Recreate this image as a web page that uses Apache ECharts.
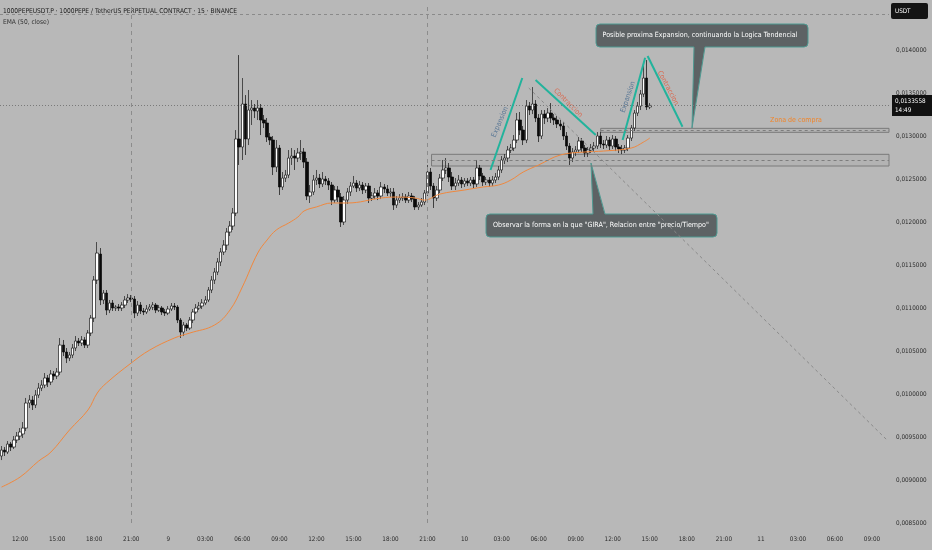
<!DOCTYPE html>
<html><head><meta charset="utf-8">
<script src="https://cdn.jsdelivr.net/npm/echarts@6/dist/echarts.min.js"></script>
<style>html,body{margin:0;padding:0;background:#b8b8b8}#c{width:932px;height:550px}</style>
</head><body><div id="c"></div><script>
const FONT = "'DejaVu Sans Condensed','Liberation Sans Narrow','Roboto Condensed',Roboto,sans-serif";

// x-axis tick labels (every 3 hours, 15-minute bars)
const tickLabels = ['12:00','15:00','18:00','21:00','9','03:00','06:00','09:00','12:00','15:00','18:00','21:00','10','03:00','06:00','09:00','12:00','15:00','18:00','21:00','11','03:00','06:00','09:00'];

// 15-minute slots shown on the time axis (from 10:30 on day 8)
const categories = [];
for (let i = 0; i < 288; i++) {
  const m = (10 * 60 + 30 + i * 15) % 1440;
  categories.push(String(Math.floor(m / 60)).padStart(2, '0') + ':' + String(m % 60).padStart(2, '0'));
}

// candles: [open, close, low, high]
const candles = [
[0.009279,0.009348,0.009232,0.009395],[0.009348,0.009325,0.009279,0.009383],[0.009325,0.009418,0.009302,0.009453],[0.009418,0.009383,0.009337,0.009442],
[0.009383,0.009465,0.009360,0.009511],[0.009465,0.009511,0.009430,0.009558],[0.009511,0.009558,0.009465,0.009604],[0.009535,0.009604,0.009488,0.009674],
[0.009604,0.009895,0.009569,0.009954],[0.009895,0.009930,0.009837,0.009988],[0.009930,0.009872,0.009814,0.009976],[0.009872,0.009988,0.009837,0.010046],
[0.009988,0.010069,0.009954,0.010128],[0.010069,0.010104,0.010034,0.010162],[0.010104,0.010186,0.010069,0.010244],[0.010186,0.010139,0.010081,0.010221],
[0.010139,0.010232,0.010104,0.010279],[0.010232,0.010209,0.010162,0.010267],[0.010209,0.010255,0.010174,0.010302],[0.010255,0.010569,0.010221,0.010651],
[0.010569,0.010488,0.010441,0.010628],[0.010488,0.010418,0.010360,0.010535],[0.010418,0.010453,0.010383,0.010488],[0.010453,0.010535,0.010418,0.010581],
[0.010535,0.010616,0.010500,0.010674],[0.010616,0.010593,0.010558,0.010651],[0.010593,0.010628,0.010558,0.010674],[0.010628,0.010569,0.010535,0.010662],
[0.010569,0.010709,0.010535,0.010744],[0.010709,0.010883,0.010674,0.010918],[0.010883,0.011325,0.010837,0.011372],[0.011325,0.011639,0.011279,0.011767],
[0.011627,0.011093,0.011034,0.011697],[0.011093,0.011174,0.011046,0.011209],[0.011174,0.010976,0.010918,0.011209],[0.010976,0.011058,0.010941,0.011093],
[0.011058,0.011000,0.010965,0.011093],[0.011000,0.011011,0.010965,0.011034],[0.011011,0.011000,0.010965,0.011046],[0.011000,0.011034,0.010965,0.011069],
[0.011034,0.011093,0.011000,0.011139],[0.011093,0.011116,0.011058,0.011162],[0.011116,0.011104,0.011069,0.011151],[0.011104,0.010941,0.010883,0.011139],
[0.010941,0.011034,0.010907,0.011081],[0.011034,0.010965,0.010930,0.011069],[0.010965,0.010953,0.010918,0.011000],[0.010953,0.010988,0.010930,0.011034],
[0.010988,0.011011,0.010965,0.011046],[0.011011,0.011034,0.010976,0.011069],[0.011034,0.010976,0.010941,0.011058],[0.010976,0.011000,0.010953,0.011034],
[0.011000,0.010953,0.010918,0.011023],[0.010953,0.010941,0.010907,0.010988],[0.010941,0.010988,0.010918,0.011023],[0.010988,0.011023,0.010965,0.011058],
[0.011023,0.011011,0.010976,0.011058],[0.011011,0.010860,0.010825,0.011034],[0.010860,0.010720,0.010651,0.010883],[0.010720,0.010802,0.010674,0.010837],
[0.010802,0.010767,0.010732,0.010825],[0.010767,0.010860,0.010744,0.010895],[0.010860,0.010953,0.010825,0.010988],[0.010953,0.011000,0.010930,0.011046],
[0.011000,0.011023,0.010976,0.011069],[0.011023,0.011058,0.010988,0.011104],[0.011058,0.011093,0.011034,0.011139],[0.011093,0.011209,0.011069,0.011244],
[0.011209,0.011325,0.011174,0.011372],[0.011325,0.011418,0.011279,0.011465],[0.011418,0.011535,0.011383,0.011581],[0.011535,0.011651,0.011488,0.011697],
[0.011651,0.011732,0.011616,0.011790],[0.011732,0.011883,0.011674,0.011930],[0.011883,0.011953,0.011837,0.012011],[0.011953,0.012104,0.011907,0.012163],
[0.012104,0.012965,0.012069,0.013069],[0.012965,0.012872,0.012663,0.013941],[0.012872,0.013372,0.012721,0.013674],[0.013372,0.012965,0.012779,0.013476],
[0.012965,0.013302,0.012895,0.013535],[0.013302,0.013325,0.013128,0.013418],[0.013325,0.013290,0.013209,0.013372],[0.013290,0.013325,0.013186,0.013418],
[0.013325,0.013186,0.013011,0.013372],[0.013186,0.013151,0.013093,0.013244],[0.013151,0.012988,0.012930,0.013209],[0.012988,0.012953,0.012895,0.013035],
[0.012953,0.012639,0.012546,0.013000],[0.012639,0.012860,0.012581,0.012953],[0.012860,0.012407,0.012314,0.012895],[0.012407,0.012511,0.012372,0.012581],
[0.012511,0.012546,0.012465,0.012605],[0.012546,0.012744,0.012511,0.012837],[0.012744,0.012767,0.012663,0.012860],[0.012767,0.012744,0.012605,0.012837],
[0.012744,0.012802,0.012697,0.012860],[0.012802,0.012814,0.012721,0.012953],[0.012814,0.012697,0.012628,0.012860],[0.012697,0.012302,0.012255,0.012744],
[0.012302,0.012349,0.012221,0.012430],[0.012349,0.012488,0.012314,0.012546],[0.012488,0.012511,0.012430,0.012605],[0.012511,0.012442,0.012395,0.012558],
[0.012442,0.012500,0.012407,0.012581],[0.012500,0.012477,0.012430,0.012535],[0.012477,0.012430,0.012372,0.012511],[0.012430,0.012255,0.012197,0.012465],
[0.012255,0.012372,0.012221,0.012418],[0.012372,0.012290,0.012232,0.012418],[0.012290,0.012000,0.011942,0.012337],[0.012000,0.012255,0.011965,0.012302],
[0.012255,0.012349,0.012209,0.012395],[0.012349,0.012418,0.012302,0.012465],[0.012418,0.012453,0.012395,0.012535],[0.012453,0.012395,0.012349,0.012488],
[0.012395,0.012430,0.012360,0.012477],[0.012430,0.012372,0.012325,0.012465],[0.012372,0.012418,0.012337,0.012453],[0.012418,0.012279,0.012221,0.012453],
[0.012279,0.012302,0.012244,0.012349],[0.012302,0.012337,0.012267,0.012395],[0.012337,0.012302,0.012255,0.012372],[0.012302,0.012407,0.012267,0.012465],
[0.012407,0.012384,0.012337,0.012442],[0.012384,0.012337,0.012302,0.012430],[0.012337,0.012349,0.012290,0.012395],[0.012349,0.012197,0.012140,0.012395],
[0.012197,0.012255,0.012163,0.012302],[0.012255,0.012279,0.012221,0.012325],[0.012279,0.012290,0.012244,0.012337],[0.012290,0.012255,0.012221,0.012325],
[0.012255,0.012302,0.012221,0.012349],[0.012302,0.012267,0.012232,0.012337],[0.012267,0.012175,0.012140,0.012302],[0.012175,0.012197,0.012140,0.012232],
[0.012197,0.012232,0.012175,0.012279],[0.012232,0.012337,0.012197,0.012372],[0.012337,0.012581,0.012302,0.012663],[0.012581,0.012418,0.012372,0.012628],
[0.012418,0.012279,0.012163,0.012453],[0.012279,0.012372,0.012244,0.012418],[0.012372,0.012511,0.012337,0.012558],[0.012511,0.012605,0.012477,0.012721],
[0.012605,0.012628,0.012558,0.012744],[0.012628,0.012523,0.012465,0.012686],[0.012523,0.012418,0.012372,0.012581],[0.012418,0.012453,0.012372,0.012511],
[0.012453,0.012488,0.012418,0.012546],[0.012488,0.012442,0.012395,0.012523],[0.012442,0.012477,0.012407,0.012511],[0.012477,0.012453,0.012418,0.012511],
[0.012453,0.012488,0.012418,0.012523],[0.012488,0.012442,0.012395,0.012523],[0.012442,0.012628,0.012407,0.012721],[0.012628,0.012535,0.012488,0.012663],
[0.012535,0.012465,0.012418,0.012570],[0.012465,0.012488,0.012430,0.012523],[0.012488,0.012453,0.012407,0.012523],[0.012453,0.012488,0.012418,0.012535],
[0.012488,0.012523,0.012453,0.012570],[0.012523,0.012605,0.012488,0.012651],[0.012605,0.012721,0.012570,0.012767],[0.012721,0.012744,0.012674,0.012790],
[0.012744,0.012837,0.012697,0.012883],[0.012837,0.012860,0.012802,0.012907],[0.012860,0.012953,0.012825,0.013011],[0.012953,0.013186,0.012918,0.013267],
[0.013186,0.013069,0.013011,0.013279],[0.013069,0.012953,0.012895,0.013116],[0.012953,0.013348,0.012918,0.013418],[0.013348,0.013302,0.013244,0.013395],
[0.013302,0.013372,0.013255,0.013569],[0.013372,0.013209,0.013162,0.013418],[0.013209,0.013000,0.012930,0.013255],[0.013000,0.013255,0.012965,0.013302],
[0.013255,0.013209,0.013139,0.013302],[0.013209,0.013267,0.013162,0.013325],[0.013267,0.013209,0.013151,0.013383],[0.013209,0.013186,0.013128,0.013255],
[0.013186,0.013139,0.013093,0.013232],[0.013139,0.013116,0.013069,0.013186],[0.013116,0.013000,0.012953,0.013162],[0.013000,0.012883,0.012837,0.013046],
[0.012883,0.012744,0.012663,0.012918],[0.012744,0.012814,0.012697,0.012860],[0.012814,0.012837,0.012767,0.012883],[0.012837,0.012942,0.012802,0.012988],
[0.012942,0.012860,0.012814,0.012976],[0.012860,0.012802,0.012756,0.012895],[0.012802,0.012837,0.012756,0.012872],[0.012837,0.012860,0.012802,0.012907],
[0.012860,0.012883,0.012825,0.012930],[0.012883,0.013000,0.012849,0.013046],[0.013000,0.012907,0.012860,0.013046],[0.012907,0.012895,0.012849,0.012953],
[0.012895,0.012953,0.012860,0.013000],[0.012953,0.012883,0.012837,0.012988],[0.012883,0.012965,0.012849,0.013011],[0.012965,0.012872,0.012825,0.013000],
[0.012872,0.012849,0.012802,0.012907],[0.012849,0.012837,0.012790,0.012895],[0.012837,0.012860,0.012802,0.012895],[0.012860,0.012976,0.012825,0.013011],
[0.012976,0.013093,0.012942,0.013128],[0.013093,0.013267,0.013058,0.013302],[0.013267,0.013348,0.013232,0.013395],[0.013348,0.013488,0.013302,0.013535],
[0.013488,0.013674,0.013453,0.013814],[0.013674,0.013337,0.013302,0.013883],[0.013337,0.0133558,0.013313,0.013383]
];

// EMA(50, close): [bar index, value]
const emaPoints = [
[0,0.008918],[6,0.009034],[12,0.009220],[16,0.009325],[22,0.009581],[28,0.009814],[31,0.010011],[34,0.010128],
[42,0.010360],[48,0.010511],[56,0.010651],[61,0.010709],[69,0.010802],[74,0.010976],[78,0.011244],[83,0.011639],
[86,0.011790],[89,0.011907],[93,0.011988],[96,0.012058],[98,0.012128],[102,0.012175],[107,0.012221],[112,0.012221],
[123,0.012279],[128,0.012290],[134,0.012279],[137,0.012255],[142,0.012325],[150,0.012372],[156,0.012407],[161,0.012430],
[165,0.012488],[169,0.012581],[174,0.012663],[181,0.012779],[189,0.012814],[195,0.012825],[204,0.012860],[208,0.012930],[210,0.012976]
];

// drawings anchored to [bar index, price]
const lastPrice = 0.0133558;
const topLevel = 0.014418;
const sessionBreaks = [42, 138];
const tealLines = [
  [[158.4, 0.012605], [168.7, 0.013674]],
  [[173.0, 0.013651], [192.5, 0.013011]],
  [[201.2, 0.012953], [208.5, 0.013910]],
  [[209.3, 0.013930], [220.6, 0.013108]]
];
const diagonal = [[170.8, 0.013558], [287.2, 0.009453]];
const zones = [
  {from: 194.1, top: 0.013089, mid: 0.013066, bottom: 0.013043},
  {from: 139.3, top: 0.012787, mid: 0.012715, bottom: 0.012651}
];
const zoneEnd = 287.5;

const TEAL = '#22b39c';
const LABEL_FONT = 6.3;
const candleLines = [
  {yAxis: topLevel, lineStyle: {type: [3, 3], color: '#8a8a8a', width: 1}},
  {yAxis: lastPrice, lineStyle: {type: [1, 2], color: '#7a7a7a', width: 1},
    label: {show: true, position: 'end', distance: 3, formatter: '0,0133558\n14:49', backgroundColor: '#111111',
      color: '#ffffff', fontSize: LABEL_FONT, fontFamily: FONT, lineHeight: 9, padding: [2, 8, 1, 3], align: 'left'}}
];
const markLineData = [];
sessionBreaks.forEach(s => markLineData.push({xAxis: s, lineStyle: {type: [4, 4], color: '#8c8c8c', width: 1}}));
tealLines.forEach(l => markLineData.push([{coord: l[0], lineStyle: {color: TEAL, width: 2, type: 'solid'}}, {coord: l[1]}]));
markLineData.push([{coord: diagonal[0], lineStyle: {color: '#8a8a8a', width: 1, type: [3, 3]}}, {coord: diagonal[1]}]);
zones.forEach(z => markLineData.push([{coord: [z.from, z.mid], lineStyle: {color: '#7d7d7d', width: 1, type: [3, 3]}}, {coord: [zoneEnd, z.mid]}]));

const chart = echarts.init(document.getElementById('c'), null, {renderer: 'canvas'});
const CALLOUT_FILL = '#5d6264', CALLOUT_STROKE = '#4f9a92';
const TXT = 7.1;
chart.setOption({
  backgroundColor: '#b8b8b8',
  animation: false,
  grid: {left: 0, right: 43, top: 7, bottom: 27},
  xAxis: [{
    type: 'category', data: categories, boundaryGap: true,
    axisLine: {show: false}, axisTick: {show: false}, splitLine: {show: false},
    axisLabel: {interval: (i) => i >= 6 && (i - 6) % 12 === 0, formatter: (v, i) => tickLabels[(i - 6) / 12] || '',
      color: '#2a2a2a', fontSize: LABEL_FONT, fontFamily: FONT, margin: 13}
  }, {
    type: 'value', min: -0.5, max: 287.5, show: false
  }],
  yAxis: {
    type: 'value', position: 'right', min: 0.0085, max: 0.0145, interval: 0.0005,
    splitLine: {show: false}, axisLine: {show: false}, axisTick: {show: false},
    axisLabel: {formatter: v => v.toFixed(7).replace('.', ','), color: '#2a2a2a', fontSize: LABEL_FONT, fontFamily: FONT, margin: 7, showMaxLabel: false}
  },
  series: [{
    type: 'candlestick', data: candles, barWidth: 3, xAxisIndex: 0,
    itemStyle: {color: '#ffffff', color0: '#0a0a0a', borderColor: '#1a1a1a', borderColor0: '#0a0a0a', borderWidth: 0.7},
    markLine: {symbol: ['none', 'none'], precision: 8, silent: true, label: {show: false}, data: candleLines}
  }, {
    type: 'line', xAxisIndex: 1, data: emaPoints, smooth: 0.4, showSymbol: false,
    lineStyle: {color: '#f0883e', width: 1}
  }, {
    type: 'line', xAxisIndex: 1, data: [], silent: true,
    markLine: {symbol: ['none', 'none'], precision: 8, silent: true, label: {show: false}, data: markLineData},
    markArea: {silent: true, itemStyle: {color: 'rgba(100,100,100,0.05)', borderColor: '#7a7a7a', borderWidth: 1},
      data: zones.map(z => [{coord: [z.from, z.top]}, {coord: [zoneEnd, z.bottom]}])}
  }],
  graphic: [
    {type: 'text', x: 3, y: 11, style: {text: '1000PEPEUSDT.P · 1000PEPE / TetherUS PERPETUAL CONTRACT · 15 · BINANCE', fill: '#1c1c1c', font: '6.6px ' + FONT, verticalAlign: 'middle'}},
    {type: 'text', x: 3, y: 22, style: {text: 'EMA (50, close)', fill: '#333333', font: '6.6px ' + FONT, verticalAlign: 'middle'}},
    {type: 'rect', shape: {x: 891, y: 3, width: 37, height: 16, r: 2}, style: {fill: '#141414'}},
    {type: 'text', x: 895, y: 11, style: {text: 'USDT', fill: '#ffffff', font: LABEL_FONT + 'px ' + FONT, verticalAlign: 'middle'}},
    {type: 'text', x: 500, y: 122, rotation: 67 * Math.PI / 180, style: {text: 'Expansion', fill: '#5a7896', font: '7px ' + FONT, align: 'center', verticalAlign: 'middle'}},
    {type: 'text', x: 568, y: 103, rotation: -45 * Math.PI / 180, style: {text: 'Contraccion', fill: '#d9694f', font: '7px ' + FONT, align: 'center', verticalAlign: 'middle'}},
    {type: 'text', x: 628, y: 97, rotation: 71 * Math.PI / 180, style: {text: 'Expansion', fill: '#5a7896', font: '7px ' + FONT, align: 'center', verticalAlign: 'middle'}},
    {type: 'text', x: 668, y: 88, rotation: -62 * Math.PI / 180, style: {text: 'Contraccion', fill: '#d9694f', font: '7px ' + FONT, align: 'center', verticalAlign: 'middle'}},
    {type: 'text', x: 796, y: 120, style: {text: 'Zona de compra', fill: '#f0852a', font: '7px ' + FONT, align: 'center', verticalAlign: 'middle'}},
    // callout 1
    {type: 'rect', shape: {x: 596, y: 24, width: 212, height: 23, r: 4}, style: {fill: CALLOUT_FILL, stroke: CALLOUT_STROKE, lineWidth: 1}},
    {type: 'polygon', shape: {points: [[694, 46], [705, 46], [692, 128]]}, style: {fill: CALLOUT_FILL}},
    {type: 'polyline', shape: {points: [[694, 47], [692, 128], [705, 47]]}, style: {stroke: CALLOUT_STROKE, fill: null, lineWidth: 1}},
    {type: 'text', x: 700, y: 35.5, style: {text: 'Posible proxima Expansion, continuando la Logica Tendencial', fill: '#ffffff', font: TXT + 'px ' + FONT, align: 'center', verticalAlign: 'middle'}},
    // callout 2
    {type: 'rect', shape: {x: 486, y: 214, width: 231, height: 23, r: 4}, style: {fill: CALLOUT_FILL, stroke: CALLOUT_STROKE, lineWidth: 1}},
    {type: 'polygon', shape: {points: [[593, 215], [605, 215], [591, 163]]}, style: {fill: CALLOUT_FILL}},
    {type: 'polyline', shape: {points: [[593, 214], [591, 163], [605, 214]]}, style: {stroke: CALLOUT_STROKE, fill: null, lineWidth: 1}},
    {type: 'text', x: 601, y: 225.5, style: {text: 'Observar la forma en la que "GIRA", Relacion entre "precio/Tiempo"', fill: '#ffffff', font: TXT + 'px ' + FONT, align: 'center', verticalAlign: 'middle'}}
  ]
});
</script></body></html>
